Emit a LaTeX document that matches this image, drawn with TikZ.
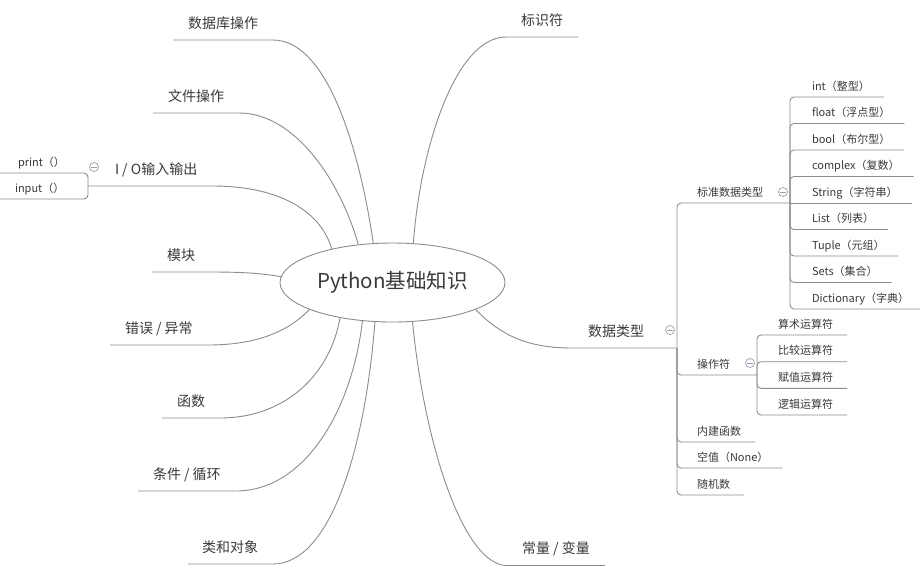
\documentclass[tikz,border=0pt]{standalone}
\usepackage{fontspec}
\setmainfont{Noto Sans CJK SC}
\usetikzlibrary{shapes.geometric}
\definecolor{txt}{RGB}{58,58,58}
\definecolor{linegray}{RGB}{140,140,140}
\definecolor{knob}{RGB}{150,160,178}
\tikzset{
  % left and right padding around a label (these keys append, so set them once per node)
  pads/.style 2 args={execute at begin node={\hspace*{#1}}, execute at end node={\hspace*{#2}}},
  lbl/.style={inner sep=0pt, outer sep=0pt, text=txt, anchor=south west},
  topic/.style={lbl, font=\fontsize{14}{17}\selectfont, text height=11pt, text depth=11.7pt},
  leaf/.style={lbl, font=\fontsize{11}{13}\selectfont, text height=9pt, text depth=6.8pt},
  wire/.style={draw=linegray, line width=0.9pt},
  branch/.style={wire, rounded corners=4pt},
  knobc/.style={circle, draw=knob, fill=white, line width=0.7pt, minimum size=9pt, inner sep=0pt,
    path picture={\draw[knob, line width=0.8pt] ([xshift=-2.6pt]path picture bounding box.center) -- ([xshift=2.6pt]path picture bounding box.center);}},
}
\begin{document}
\begin{tikzpicture}[x=1pt,y=-1pt]
\useasboundingbox[fill=white] (0,0) rectangle (920,566);

% central topic
\node[ellipse, draw=linegray, line width=0.9pt, fill=white, minimum width=225pt, minimum height=79pt,
      inner sep=0pt, text=txt, font=\fontsize{20.5}{24}\selectfont] (root) at (392.5,282.5) {Python基础知识};

% main topics
\node[topic, pads={15pt}{15pt}] (db) at (173,40) {数据库操作};
\node[topic, pads={15pt}{15pt}] (file) at (153,113) {文件操作};
\node[topic, pads={27pt}{15pt}] (io) at (88,186) {I / O输入输出};
\node[topic, pads={15pt}{15pt}] (mod) at (152,272) {模块};
\node[topic, pads={15pt}{15pt}] (err) at (110,345) {错误 / 异常};
\node[topic, pads={15pt}{15pt}] (func) at (162,418) {函数};
\node[topic, pads={15pt}{15pt}] (loop) at (138,491) {条件 / 循环};
\node[topic, pads={14pt}{15pt}] (cls) at (188,564) {类和对象};
\node[topic, pads={15pt}{15pt}] (const) at (507,565.5) {常量 / 变量};
\node[topic, pads={15pt}{15pt}] (ident) at (506,37) {标识符};
\node[topic, pads={15pt}{33pt}] (dtype) at (573,348) {数据类型};

% curved links from the central topic
\draw[wire] (root.116) .. controls (358,140) and (325,40) .. (db.south east) -- (db.south west);
\draw[wire] (root.132) .. controls (341,183) and (296,113) .. (file.south east) -- (file.south west);
\draw[wire] (root.151) .. controls (322,215) and (285,186) .. (io.south east) -- (io.south west);
\draw[wire] (root.177) .. controls (260,273) and (240,272) .. (mod.south east) -- (mod.south west);
\draw[wire] (root.198) .. controls (285,335) and (250,345) .. (err.south east) -- (err.south west);
\draw[wire] (root.214) .. controls (330,375) and (285,418) .. (func.south east) -- (func.south west);
\draw[wire] (root.232) .. controls (352,410) and (305,491) .. (loop.south east) -- (loop.south west);
\draw[wire] (root.246) .. controls (365,450) and (330,564) .. (cls.south east) -- (cls.south west);
\draw[wire] (root.297) .. controls (425,450) and (465,565.5) .. (const.south west) -- (const.south east);
\draw[wire] (root.62) .. controls (420,150) and (455,37) .. (ident.south west) -- (ident.south east);
\draw[wire] (root.342) .. controls (505,340) and (535,348) .. (dtype.south west) -- (dtype.south east);

% I/O children
\node[leaf, pads={18pt}{21pt}] (print) at (0,173) {print（）};
\node[leaf, pads={15pt}{21pt}] (input) at (0,199) {input（）};
\draw[branch] (io.south west) |- (print.south west);
\draw[branch] (io.south west) |- (input.south west);
\node[knobc] (k-io) at ([shift={(6,-19)}]io.south west) {};

% data type children
\node[leaf, pads={20pt}{27pt}] (std) at (677,203) {标准数据类型};
\node[leaf, pads={20pt}{27pt}] (ops) at (677,375) {操作符};
\node[leaf, pads={20pt}{14pt}] (builtin) at (677,442) {内建函数};
\node[leaf, pads={20pt}{14pt}] (none) at (677,468) {空值（None）};
\node[leaf, pads={20pt}{14pt}] (rand) at (677,495) {随机数};
\foreach \n in {std,ops,builtin,none,rand}
  \draw[branch] (dtype.south east) |- (\n.south east);
\node[knobc] (k-dt) at ([shift={(-7,-18)}]dtype.south east) {};

% standard data types
\node[leaf, pads={22pt}{14pt}] (int) at (790,97) {int（整型）};
\node[leaf, pads={22pt}{14pt}] (float) at (790,123.5) {float（浮点型）};
\node[leaf, pads={22pt}{14pt}] (bool) at (790,150) {bool（布尔型）};
\node[leaf, pads={22pt}{14pt}] (complex) at (790,176.5) {complex（复数）};
\node[leaf, pads={22pt}{14pt}] (string) at (790,203) {String（字符串）};
\node[leaf, pads={22pt}{14pt}] (list) at (790,229.5) {List（列表）};
\node[leaf, pads={22pt}{14pt}] (tuple) at (790,256) {Tuple（元组）};
\node[leaf, pads={22pt}{14pt}] (sets) at (790,282.5) {Sets（集合）};
\node[leaf, pads={22pt}{14pt}] (dict) at (790,309) {Dictionary（字典）};
\foreach \n in {int,float,bool,complex,list,tuple,sets,dict}
  \draw[branch] (std.south east) |- (\n.south east);
\draw[wire] (std.south east) -- (string.south east);
\node[knobc] (k-std) at ([shift={(-7,-11)}]std.south east) {};

% operators
\node[leaf, pads={21pt}{14pt}] (arith) at (757,335) {算术运算符};
\node[leaf, pads={21pt}{14pt}] (cmp) at (757,361.7) {比较运算符};
\node[leaf, pads={21pt}{14pt}] (assign) at (757,388.3) {赋值运算符};
\node[leaf, pads={21pt}{14pt}] (logic) at (757,415) {逻辑运算符};
\foreach \n in {arith,cmp,assign,logic}
  \draw[branch] (ops.south east) |- (\n.south east);
\node[knobc] (k-ops) at ([shift={(-7,-12)}]ops.south east) {};
\end{tikzpicture}
\end{document}
